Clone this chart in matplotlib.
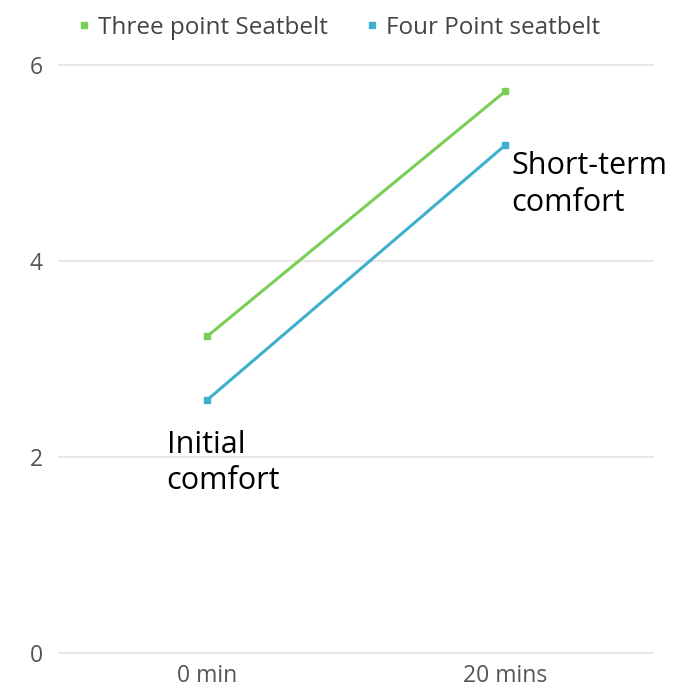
import numpy as np
import matplotlib
matplotlib.use("Agg")
import matplotlib.pyplot as plt

# comfort ratings at each time point
times = ["0 min", "20 mins"]
three_point = [3.23, 5.73]
four_point = [2.58, 5.18]
yticks = [0, 2, 4, 6]

green = "#79cf55"
blue = "#3fb0cc"
tick_grey = "#555555"


def main():
    fig = plt.figure(figsize=(6.98, 6.92), dpi=100)
    ax = fig.add_axes([0.083, 0.0422, 0.854, 0.878])
    x = np.arange(len(times))

    ax.plot(x, three_point, color=green, linewidth=2.2, marker="s",
            markersize=5, label="Three point Seatbelt", clip_on=False)
    ax.plot(x, four_point, color=blue, linewidth=2.2, marker="s",
            markersize=5, label="Four Point seatbelt", clip_on=False)

    ax.set_xlim(-0.5, 1.5)
    ax.set_ylim(-0.1, 6.1)
    ax.set_xticks(x)
    ax.set_xticklabels(times)
    ax.set_yticks(yticks)
    ax.tick_params(length=0, labelsize=16.5, colors=tick_grey)
    for lab in ax.get_xticklabels() + ax.get_yticklabels():
        lab.set_family("Open Sans")
    ax.tick_params(axis="y", pad=11)
    ax.tick_params(axis="x", pad=1)
    for s in ax.spines.values():
        s.set_visible(False)
    ax.grid(axis="y", color="#e3e3e3", linewidth=1.2)
    ax.set_axisbelow(True)

    # annotations next to the points
    ax.text(-0.135, 2.28, "Initial\ncomfort", fontsize=22, family="Open Sans",
            va="top", ha="left", linespacing=1.3)
    ax.text(1.022, 5.12, "Short-term\ncomfort", fontsize=22, family="Open Sans",
            va="top", ha="left", linespacing=1.3)

    leg = ax.legend(loc="center left", bbox_to_anchor=(0.035, 1.045), ncol=2,
                    frameon=False, prop={"family": "Open Sans", "size": 17.5},
                    handlelength=0.4, handletextpad=0.4, columnspacing=1.6,
                    borderaxespad=0, borderpad=0)
    for h in leg.legend_handles:
        h.set_linestyle("none")
        h.set_markersize(5)
    for t in leg.get_texts():
        t.set_color("#444444")

    plt.savefig("out.png", dpi=100)


if __name__ == "__main__":
    main()
